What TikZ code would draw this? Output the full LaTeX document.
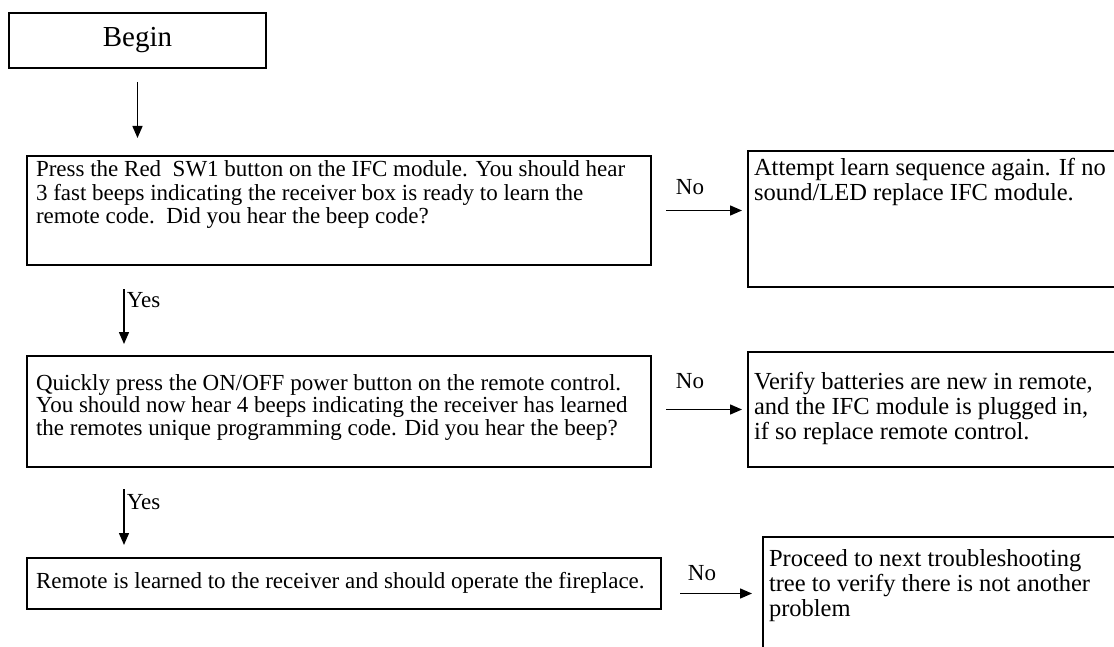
\documentclass[tikz,border=0pt]{standalone}
\usepackage{fontspec}
\setmainfont{Liberation Serif}
\usetikzlibrary{arrows.meta}

% text block: width, height, first baseline, lines
\newcommand{\boxtext}[4]{\parbox[c][#2][t]{#1}{\raggedright\rule{0pt}{#3}#4}}

\tikzset{
    stepbox/.style={draw, line width=2pt, inner xsep=9pt, inner ysep=0pt, anchor=north west,
        font=\fontsize{23}{22.5}\selectfont},
    notebox/.style={stepbox, inner xsep=6pt, font=\fontsize{24.5}{25}\selectfont},
    flow/.style={line width=1.5pt, -{Triangle[length=12pt,width=10pt]}},
    lbl/.style={font=\fontsize{23}{23}\selectfont, inner sep=2pt}
}

\begin{document}
\begin{tikzpicture}[x=1pt,y=-1pt]
    \useasboundingbox (0,0) rectangle (1114,647);
    \clip (0,0) rectangle (1114,647);

    % Start
    \node[stepbox, inner sep=0pt, minimum width=257pt, minimum height=55pt,
        font=\fontsize{29}{29}\selectfont] (begin) at (8,12) {Begin};

    % Questions (left column)
    \node[stepbox, font=\fontsize{23}{23.5}\selectfont] (q1) at (26,155) {\boxtext{606pt}{109pt}{21pt}{%
        Press the Red\ \ SW1 button on the IFC module. You should hear\\
        3 fast beeps indicating the receiver box is ready to learn the\\
        remote code.\ \ Did you hear the beep code?}};
    \node[stepbox] (q2) at (26,355) {\boxtext{606pt}{111pt}{34pt}{%
        Quickly press the ON/OFF power button on the remote control.\\
        You should now hear 4 beeps indicating the receiver has learned\\
        the remotes unique programming code. Did you hear the beep?}};
    \node[stepbox] (q3) at (26,557) {\boxtext{616pt}{51pt}{30pt}{%
        Remote is learned to the receiver and should operate the fireplace.}};

    % Answers for No (right column)
    \node[notebox] (no1) at (747,150) {\boxtext{366pt}{136pt}{25pt}{%
        Attempt learn sequence again. If no\\
        sound/LED replace IFC module.}};
    \node[notebox] (no2) at (747,351) {\boxtext{366pt}{115pt}{37pt}{%
        Verify batteries are new in remote,\\
        and the IFC module is plugged in,\\
        if so replace remote control.}};
    \node[notebox] (no3) at (762,536) {\boxtext{351pt}{130pt}{29pt}{%
        Proceed to next troubleshooting\\
        tree to verify there is not another\\
        problem}};

    % Yes path
    \draw[flow, shorten <=13pt, shorten >=17pt] (begin.south) -- (begin.south |- q1.north);
    \draw[flow, shorten <=23pt, shorten >=11pt] ([xshift=98pt]q1.south west) -- ([xshift=98pt]q2.north west)
        node[lbl, right, pos=0.38] {Yes};
    \draw[flow, shorten <=21pt, shorten >=12pt] ([xshift=98pt]q2.south west) -- ([xshift=98pt]q3.north west)
        node[lbl, right, pos=0.38] {Yes};

    % No path
    \draw[flow, shorten <=14pt, shorten >=5pt] (q1.east) -- (q1.east -| no1.west)
        node[lbl, above=13pt, pos=0.4] {No};
    \draw[flow, shorten <=14pt, shorten >=5pt] ([yshift=2pt]q2.east) -- ([yshift=2pt]q2.east -| no2.west)
        node[lbl, above=18pt, pos=0.4] {No};
    \draw[flow, shorten <=18pt, shorten >=10pt] ([yshift=-10pt]q3.east) -- ([yshift=-10pt]q3.east -| no3.west)
        node[lbl, above=10pt, pos=0.4] {No};

\end{tikzpicture}
\end{document}
